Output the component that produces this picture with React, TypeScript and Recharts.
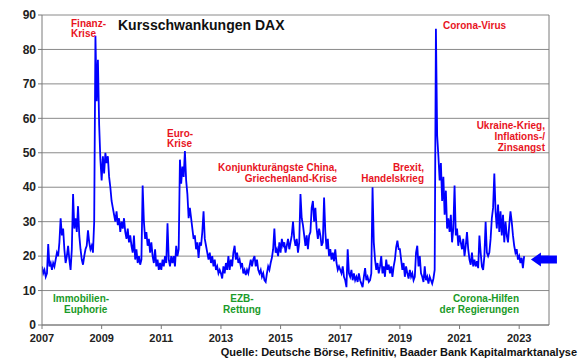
import { LineChart, Line, XAxis, YAxis, CartesianGrid, ReferenceLine, ReferenceDot } from "recharts";

// DAX-Volatilität (VDAX-NEW), halbmonatliche Werte je Jahr
const years = [2007, 2008, 2009, 2010, 2011, 2012, 2013, 2014, 2015, 2016, 2017, 2018, 2019, 2020, 2021, 2022, 2023];
const vol2007 = [17, 15, 16, 14, 15, 23.5, 17, 18, 16, 18, 17, 19, 21, 20, 24, 31, 26, 28, 22, 18, 20, 23, 19, 16];
const vol2008 = [22, 38, 28, 31, 27, 34.5, 26, 22, 19, 17.5, 20, 22, 23, 27.5, 24, 22, 23, 21, 30, 84, 65, 77, 58, 48];
const vol2009 = [42, 49, 44, 50, 47, 49, 43, 40, 36, 34, 32, 30, 33, 29, 31, 27, 30, 28, 31, 27, 25, 28, 24, 26];
const vol2010 = [23, 21, 26, 19, 22, 18, 20, 17.5, 19, 40.5, 30, 25, 27, 23, 25, 21, 24, 20, 18, 22, 17, 19, 16, 18];
const vol2011 = [16, 19, 17, 20, 18, 29.5, 19, 17, 20, 18, 20, 17, 23, 20, 22, 48, 41, 46, 43, 50.5, 42, 38, 31, 34];
const vol2012 = [31, 28, 25, 26, 22, 24, 19.5, 24, 23, 27, 33, 25, 23, 21, 19, 21, 18, 20, 17, 19, 16, 17, 15, 16];
const vol2013 = [15, 13.5, 17, 15, 18, 16, 20, 16, 19, 17, 21, 23, 19, 21, 18, 19, 17, 18, 15, 16, 14.5, 16, 15, 17];
const vol2014 = [19, 17, 19, 20, 17, 19, 16, 15, 16, 14, 15, 13, 12.5, 15, 17, 16, 18, 19.5, 22, 28, 21, 22, 20, 24];
const vol2015 = [21, 25, 23, 24, 21, 23, 25, 22, 24, 26, 30, 25, 23, 25, 21, 24, 38, 31, 29, 26, 23, 26, 22, 26];
const vol2016 = [27, 34, 36, 30, 34, 28, 25, 28, 26, 23, 24, 37, 27, 22, 25, 20, 22, 19, 21, 18.5, 22, 18, 16, 17];
const vol2017 = [16, 15, 17, 14, 13, 11, 22, 15, 14, 16, 13, 15, 13, 14, 12.5, 15, 13, 12, 11, 14, 16.5, 13, 14, 12.5];
const vol2018 = [13, 15, 40, 24, 19, 16, 18, 15, 17, 20, 15, 17, 14, 19, 16, 17.5, 15, 17, 14, 17, 19, 22.5, 24.5, 22];
const vol2019 = [22, 19, 16, 18, 14, 17, 15, 13.5, 16, 14, 15, 13, 14, 21, 23, 17, 20, 15, 14, 12.5, 17, 13, 14, 12];
const vol2020 = [14, 13, 12, 13.5, 16, 86, 55, 49, 42, 47, 36, 43, 32, 39, 28, 31, 27, 32, 24, 28, 40.5, 26, 28, 23];
const vol2021 = [26, 24, 22, 25, 20, 23, 27, 22, 19, 17.5, 21, 17, 19, 17, 18.5, 16.5, 26, 21, 17, 16, 20, 30, 21, 20];
const vol2022 = [21, 25, 31, 34, 44, 33, 28, 35, 27, 33, 26, 32, 24, 30, 26, 24, 29, 33, 30, 26, 23, 21, 22, 19];
const vol2023 = [20, 18, 19.5, 16.5, 20];
const volByYear = [vol2007, vol2008, vol2009, vol2010, vol2011, vol2012, vol2013, vol2014, vol2015, vol2016, vol2017, vol2018, vol2019, vol2020, vol2021, vol2022, vol2023];

const xTicks = [2007, 2009, 2011, 2013, 2015, 2017, 2019, 2021, 2023];
const yTicks = [0, 10, 20, 30, 40, 50, 60, 70, 80, 90];
const currentLevel = 19;

const data = years.flatMap((year, k) =>
  volByYear[k].map((v, i) => ({ t: year + i / 24, v }))
);

const FONT = "Arial, 'Liberation Sans', sans-serif";
const RED = "#e8141e";
const GREEN = "#1a9a28";

const Arrow = (props: any) => {
  const { cx, cy } = props;
  return (
    <path
      d={`M ${cx - 13} ${cy} L ${cx - 3} ${cy - 7} L ${cx - 3} ${cy - 4} L ${cx + 13} ${cy - 4} L ${cx + 13} ${cy + 4} L ${cx - 3} ${cy + 4} L ${cx - 3} ${cy + 7} Z`}
      fill="#0000ff"
    />
  );
};

const Label = ({ x, y, anchor = "start", color = RED, children }: any) => (
  <text x={x} y={y} textAnchor={anchor} fill={color} fontSize={10} fontWeight="bold" fontFamily={FONT}>
    {children}
  </text>
);

export default function App() {
  return (
    <div style={{ position: "absolute", left: 0, top: 0, width: 580, height: 358, background: "#fff" }}>
      <LineChart width={580} height={358} data={data} margin={{ top: 15, right: 31, bottom: 11, left: 0 }}>
        <CartesianGrid vertical={false} stroke="#8a8a8a" />
        <XAxis
          dataKey="t"
          type="number"
          domain={[2007, 2024]}
          ticks={xTicks}
          height={22}
          tickSize={4}
          tickMargin={5}
          stroke="#7a7a7a"
          tick={{ fill: "#222", fontSize: 11, fontWeight: "bold", fontFamily: FONT }}
          allowDataOverflow
        />
        <YAxis
          domain={[0, 90]}
          ticks={yTicks}
          width={42}
          tickSize={4}
          stroke="#7a7a7a"
          tick={{ fill: "#222", fontSize: 12, fontWeight: "bold", fontFamily: FONT }}
        />
        <ReferenceLine x={2024} stroke="#7a7a7a" />
        <Line
          dataKey="v"
          type="linear"
          stroke="#0000ff"
          strokeWidth={1.8}
          dot={false}
          isAnimationActive={false}
        />
        <ReferenceDot x={2023.83} y={currentLevel} r={0} ifOverflow="visible" shape={Arrow} />
      </LineChart>
      <svg width={580} height={358} style={{ position: "absolute", left: 0, top: 0, pointerEvents: "none" }}>
        <text x={118} y={30} fontSize={14} fontWeight="bold" fontFamily={FONT} fill="#111">
          Kursschwankungen DAX
        </text>
        <Label x={71} y={26.5}>Finanz-</Label>
        <Label x={71} y={37}>Krise</Label>
        <Label x={167} y={136.5}>Euro-</Label>
        <Label x={167} y={147}>Krise</Label>
        <Label x={337} y={171} anchor="end">Konjunkturängste China,</Label>
        <Label x={337} y={182} anchor="end">Griechenland-Krise</Label>
        <Label x={424} y={171} anchor="end">Brexit,</Label>
        <Label x={424} y={182} anchor="end">Handelskrieg</Label>
        <Label x={443} y={28.5}>Corona-Virus</Label>
        <Label x={545} y={128.5} anchor="end">Ukraine-Krieg,</Label>
        <Label x={545} y={139.5} anchor="end">Inflations-/</Label>
        <Label x={545} y={150.5} anchor="end">Zinsangst</Label>
        <Label x={53} y={302} color={GREEN}>Immobilien-</Label>
        <Label x={64} y={312.5} color={GREEN}>Euphorie</Label>
        <Label x={242} y={302} anchor="middle" color={GREEN}>EZB-</Label>
        <Label x={242} y={312.5} anchor="middle" color={GREEN}>Rettung</Label>
        <Label x={519} y={302} anchor="end" color={GREEN}>Corona-Hilfen</Label>
        <Label x={519} y={312.5} anchor="end" color={GREEN}>der Regierungen</Label>
        <text x={577} y={355.5} textAnchor="end" fontSize={11} fontWeight="bold" fontFamily={FONT} fill="#111">
          Quelle: Deutsche Börse, Refinitiv, Baader Bank Kapitalmarktanalyse
        </text>
      </svg>
    </div>
  );
}
